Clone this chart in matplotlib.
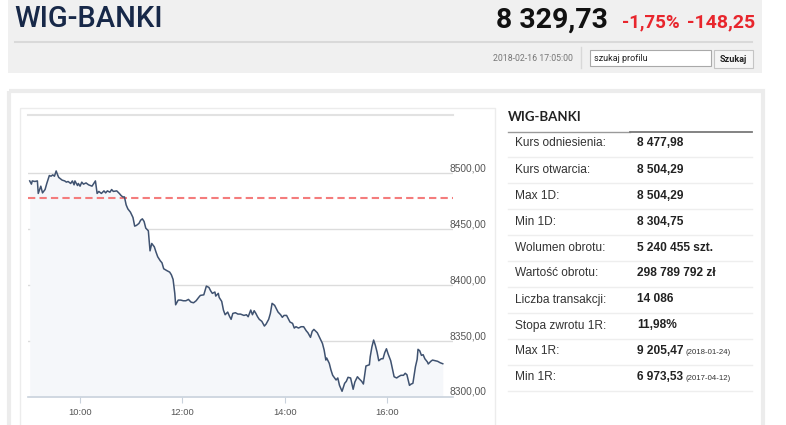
import matplotlib.pyplot as plt
from matplotlib.patches import Rectangle

# intraday quotes, minutes after 09:00
minutes = [1, 3, 4, 7, 10, 11, 14, 16, 19, 21, 24, 26, 28, 30, 32, 34, 35, 39, 42, 44,
           46, 49, 51, 53, 54, 57, 58, 60, 62, 64, 67, 70, 74, 78, 80, 82, 85, 88, 90, 92,
           95, 97, 99, 103, 106, 108, 110, 112, 114, 116, 119, 122, 124, 126, 129, 131, 133, 135, 137, 140,
           142, 144, 147, 149, 151, 154, 156, 158, 162, 165, 167, 169, 171, 172, 175, 178, 181, 184, 187, 190,
           193, 196, 199, 201, 205, 208, 211, 213, 215, 218, 219, 222, 223, 226, 228, 230, 233, 235, 237, 239,
           242, 245, 248, 252, 255, 257, 260, 262, 264, 266, 268, 270, 273, 276, 278, 281, 283, 285, 288, 290,
           292, 295, 297, 299, 302, 304, 306, 309, 311, 313, 316, 319, 322, 325, 327, 330, 332, 334, 338, 341,
           344, 346, 348, 349, 352, 354, 356, 359, 360, 362, 364, 367, 370, 372, 374, 377, 380, 382, 385, 387,
           390, 392, 394, 395, 399, 400, 402, 404, 406, 408, 410, 413, 415, 417, 419, 421, 424, 426, 428, 431,
           433, 436, 439, 441, 443, 446, 448, 450, 453, 455, 456, 458, 460, 462, 464, 467, 468, 471, 473, 476,
           479, 482, 485]
prices = [8493.1, 8490.2, 8493.1, 8492.6, 8493.1, 8481.9, 8488.4, 8482.4, 8485.4, 8490.8,
          8497.9, 8497.3, 8498.5, 8497.3, 8502.0, 8497.9, 8496.2, 8493.8, 8493.1, 8492.0,
          8492.6, 8490.8, 8493.1, 8489.6, 8493.1, 8489.0, 8490.8, 8488.4, 8492.0, 8490.2,
          8491.3, 8489.6, 8488.4, 8493.1, 8481.9, 8483.7, 8481.9, 8484.2, 8482.4, 8484.2,
          8483.0, 8485.4, 8483.7, 8484.2, 8481.9, 8480.1, 8478.8, 8478.8, 8471.7, 8468.1,
          8465.2, 8460.4, 8452.7, 8453.3, 8455.1, 8458.0, 8459.2, 8456.9, 8450.9, 8448.5,
          8430.6, 8437.2, 8434.2, 8429.5, 8425.3, 8421.7, 8419.9, 8414.6, 8412.8, 8411.6,
          8409.2, 8405.1, 8392.6, 8382.4, 8386.6, 8386.6, 8386.0, 8386.0, 8387.2, 8384.8,
          8384.2, 8386.0, 8389.0, 8390.8, 8391.3, 8399.1, 8397.9, 8394.9, 8392.6, 8393.8,
          8390.2, 8392.6, 8389.0, 8385.4, 8377.7, 8373.5, 8375.9, 8372.3, 8369.4, 8374.7,
          8375.3, 8374.1, 8374.1, 8372.9, 8373.5, 8371.7, 8377.7, 8373.5, 8377.1, 8374.7,
          8371.7, 8369.4, 8367.6, 8363.4, 8365.2, 8369.4, 8374.7, 8383.7, 8381.9, 8378.8,
          8375.9, 8373.5, 8371.2, 8372.9, 8372.9, 8369.9, 8367.0, 8365.8, 8361.6, 8362.8,
          8361.6, 8362.8, 8362.8, 8359.2, 8357.4, 8353.3, 8358.7, 8360.4, 8357.4, 8352.7,
          8347.9, 8342.0, 8333.0, 8334.8, 8330.1, 8324.1, 8319.4, 8316.3, 8315.2, 8317.0,
          8310.4, 8305.1, 8312.2, 8314.0, 8317.6, 8317.0, 8306.9, 8313.4, 8318.1, 8316.3,
          8314.0, 8311.6, 8322.3, 8327.7, 8328.8, 8336.0, 8344.9, 8350.9, 8346.2, 8340.2,
          8332.4, 8334.2, 8334.2, 8339.6, 8343.1, 8338.4, 8332.4, 8325.3, 8318.1, 8317.0,
          8318.1, 8319.4, 8319.4, 8321.2, 8319.9, 8310.4, 8311.6, 8312.2, 8327.1, 8333.7,
          8342.6, 8341.3, 8337.2, 8337.8, 8334.2, 8331.3, 8329.5, 8331.9, 8333.0, 8332.4,
          8331.9, 8330.6, 8329.73]
ref_price = 8477.98
x_labels = ["10:00", "12:00", "14:00", "16:00"]
y_levels = [8300, 8350, 8400, 8450, 8500]

index_name = "WIG-BANKI"
last_price = "8 329,73"
change_pct = "-1,75%"
change_pts = "-148,25"
stamp = "2018-02-16 17:05:00"

row_labels = ["Kurs odniesienia:", "Kurs otwarcia:", "Max 1D:", "Min 1D:", "Wolumen obrotu:",
              "Wartość obrotu:", "Liczba transakcji:", "Stopa zwrotu 1R:", "Max 1R:", "Min 1R:"]
row_values = ["8 477,98", "8 504,29", "8 504,29", "8 304,75", "5 240 455 szt.",
              "298 789 792 zł", "14 086", "11,98%", "9 205,47", "6 973,53"]
row_notes = ["", "", "", "", "", "", "", "", "(2018-01-24)", "(2017-04-12)"]

narrow = ["Roboto", "DejaVu Sans"]
arial = ["Liberation Sans", "DejaVu Sans"]

fig = plt.figure(figsize=(7.86, 4.25), dpi=100)
fig.patch.set_facecolor("white")

# page layer in pixel coordinates
bg = fig.add_axes([0, 0, 1, 1])
bg.set_xlim(0, 786)
bg.set_ylim(425, 0)
bg.axis("off")

bg.add_patch(Rectangle((8, 0), 754, 73, color="#f0f0f0", lw=0))
bg.plot([15, 752], [42, 42], color="#d9d9d9", lw=1.5)
bg.text(14, 19, index_name, fontsize=21, fontweight="medium", color="#172848",
        va="center", family=narrow)
bg.text(608, 20, last_price, fontsize=20.5, fontweight="bold", color="#111111",
        ha="right", va="center", family=narrow)
bg.text(622, 22, change_pct, fontsize=13.5, fontweight="bold", color="#e8262d",
        va="center", family=narrow)
bg.text(755, 22, change_pts, fontsize=14, fontweight="bold", color="#e8262d",
        ha="right", va="center", family=narrow)
bg.text(573, 58, stamp, fontsize=6.3, color="#777777", ha="right", va="center", family=narrow)
bg.plot([581, 581], [47, 68], color="#d8d8d8", lw=1)
bg.add_patch(Rectangle((590, 50), 121, 16, fc="white", ec="#a9a9a9", lw=0.8))
bg.text(594, 58, "szukaj profilu", fontsize=6.5, color="#222222", va="center", family=narrow)
bg.add_patch(Rectangle((714, 50), 39, 18, fc="#f5f5f5", ec="#c4c4c4", lw=0.8))
bg.text(733.5, 59, "Szukaj", fontsize=6.5, fontweight="bold", color="#222222",
        ha="center", va="center", family=narrow)

bg.add_patch(Rectangle((9, 91), 754, 340, fill=False, ec="#ececec", lw=3))
bg.add_patch(Rectangle((20, 108), 475, 330, fill=False, ec="#ececec", lw=1))

# table on the right
bg.text(508, 117, index_name, fontsize=9.5, fontweight="bold", color="#222222",
        va="center", family=["Lato", "DejaVu Sans"])
bg.plot([508, 630], [131.5, 131.5], color="#9a9a9a", lw=1)
bg.plot([630, 752], [131.5, 131.5], color="#7a7a7a", lw=1.3)
row_h = 26.0
for i, (lab, val, note) in enumerate(zip(row_labels, row_values, row_notes)):
    yc = 143.5 + i * row_h
    bg.text(515, yc, lab, fontsize=8.6, color="#333333", va="center", family=arial)
    bg.text(637, yc, val, fontsize=8.6, fontweight="bold", color="#222222",
            va="center", family=arial)
    if note:
        bg.text(686, yc + 1, note, fontsize=5.6, color="#333333", va="center", family=arial)
    bg.plot([508, 752], [yc + 13, yc + 13], color="#eeeeee", lw=1)

# price chart
ax = fig.add_axes([28 / 786, (425 - 397) / 425, (453 - 28) / 786, (397 - 115) / 425])
ax.set_facecolor("none")
ax.fill_between(minutes, prices, 8300, color="#f5f7fa", lw=0, zorder=1)
ax.plot(minutes, prices, color="#3f5270", lw=1.1, zorder=3)
ax.axhline(ref_price, color="#f47c7c", lw=1.5, ls=(0, (3.5, 2)), zorder=2)
lab_x = (449 - 28) / (453 - 28)
for lv in y_levels:
    if lv > y_levels[0]:
        ax.axhline(lv, color="#dcdcdc", lw=1, zorder=0)
    ax.text(lab_x, lv + 4.5, f"{lv},00", transform=ax.get_yaxis_transform(),
            fontsize=7.3, color="#555555", va="center", ha="left", family=arial)
ax.set_ylim(8300, 8552)
ax.set_xlim(-1, 497)
for s in ["left", "right"]:
    ax.spines[s].set_visible(False)
ax.spines["top"].set_color("#e2e2e2")
ax.spines["top"].set_linewidth(1.5)
ax.spines["bottom"].set_color("#c9d2dc")
ax.spines["bottom"].set_linewidth(1.2)
ax.set_yticks([])
ax.set_xticks([int(h[:2]) * 60 - 540 for h in x_labels])
ax.set_xticklabels(x_labels, fontsize=6.8, color="#555555", family=arial)
ax.tick_params(axis="x", length=4, color="#c9d2dc", pad=4)

fig.savefig("out.png", dpi=100)
